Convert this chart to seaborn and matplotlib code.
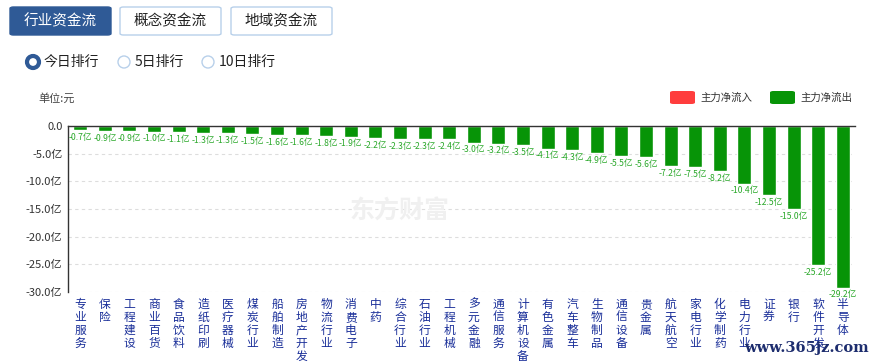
import matplotlib
matplotlib.use("Agg")
import matplotlib.pyplot as plt
from matplotlib.patches import FancyBboxPatch, Ellipse
import seaborn as sns
import pandas as pd

# 行业资金流 今日排行 (单位: 亿元)
industries = ['专业服务', '保险', '工程建设', '商业百货', '食品饮料', '造纸印刷', '医疗器械',
              '煤炭行业', '船舶制造', '房地产开发', '物流行业', '消费电子', '中药', '综合行业',
              '石油行业', '工程机械', '多元金融', '通信服务', '计算机设备', '有色金属', '汽车整车',
              '生物制品', '通信设备', '贵金属', '航天航空', '家电行业', '化学制药', '电力行业',
              '证券', '银行', '软件开发', '半导体']
net_flow = [-0.7, -0.9, -0.9, -1.0, -1.1, -1.3, -1.3, -1.5, -1.6, -1.6, -1.8, -1.9, -2.2, -2.3,
            -2.3, -2.4, -3.0, -3.2, -3.5, -4.1, -4.3, -4.9, -5.5, -5.6, -7.2, -7.5, -8.2, -10.4,
            -12.5, -15.0, -25.2, -29.2]
y_ticks = [0, -5, -10, -15, -20, -25, -30]

GREEN = '#079407'
RED = '#ff3d3d'
W, H = 872, 363

sns.set_theme(style="white")
plt.rcParams['font.family'] = ['Noto Sans CJK SC', 'DejaVu Sans']

df = pd.DataFrame({'industry': industries, 'flow': net_flow})

fig = plt.figure(figsize=(W / 100, H / 100), dpi=100)
ax = fig.add_axes([68 / W, 1 - 292 / H, (855 - 68) / W, (292 - 126) / H])

sns.barplot(data=df, x='industry', y='flow', color=GREEN, saturation=1, width=0.57, ax=ax)

ax.set_ylim(-30, 0)
ax.set_xlim(-0.5, len(industries) - 0.5)
ax.set_yticks(y_ticks)
ax.set_yticklabels(['0.0'] + [f'{v:.1f}亿' for v in y_ticks[1:]], fontsize=8, color='#333333')
ax.yaxis.grid(True, linestyle=(0, (3, 3)), color='#dddddd', linewidth=0.8)
ax.set_axisbelow(True)
ax.set_xlabel('')
ax.set_ylabel('')
ax.tick_params(axis='both', length=0, pad=4)

# 竖排行业名
ax.set_xticks(range(len(industries)))
ax.set_xticklabels(['\n'.join(s) for s in industries], fontsize=8.5, color='#1a2f99',
                   linespacing=1.02, va='top')
ax.tick_params(axis='x', pad=4)

for side in ['right', 'bottom']:
    ax.spines[side].set_visible(False)
ax.spines['top'].set_color('#333333')
ax.spines['left'].set_color('#333333')
ax.spines['top'].set_linewidth(1)
ax.spines['left'].set_linewidth(1)

# 数值标签
for i, v in enumerate(net_flow):
    ax.annotate(f'{v:.1f}亿', (i, v), xytext=(0, -2), textcoords='offset points',
                ha='center', va='top', fontsize=6.2, color='#2aa82a')


def px(x, y):
    return x / W, 1 - y / H


# 顶部按钮
buttons = [('行业资金流', 10, True), ('概念资金流', 120, False), ('地域资金流', 231, False)]
for label, x0, active in buttons:
    fx, fy = px(x0, 35)
    box = FancyBboxPatch((fx, fy), 101 / W, 28 / H, boxstyle='round,pad=0,rounding_size=0.004',
                         transform=fig.transFigure, facecolor='#2f5a96' if active else 'white',
                         edgecolor='#2f5a96' if active else '#b8d0ea', linewidth=1)
    fig.patches.append(box)
    tx, ty = px(x0 + 50.5, 21)
    fig.text(tx, ty, label, ha='center', va='center', fontsize=10.5,
             color='white' if active else '#222222')

# 单选按钮
radios = [('今日排行', 33, True), ('5日排行', 124, False), ('10日排行', 208, False)]
for label, cx, checked in radios:
    c = Ellipse(px(cx, 62), 12 / W, 12 / H, transform=fig.transFigure, facecolor='white',
                edgecolor='#2f5a96' if checked else '#b8d0ea', linewidth=3 if checked else 1)
    fig.patches.append(c)
    tx, ty = px(cx + 11, 62)
    fig.text(tx, ty, label, ha='left', va='center', fontsize=10, color='#222222')

fig.text(*px(38, 98), '单位:元', ha='left', va='center', fontsize=8, color='#444444')

# 图例
for label, x0, col in [('主力净流入', 670, RED), ('主力净流出', 770, GREEN)]:
    fx, fy = px(x0, 104)
    fig.patches.append(FancyBboxPatch((fx, fy), 25 / W, 13 / H,
                                      boxstyle='round,pad=0,rounding_size=0.004',
                                      transform=fig.transFigure, facecolor=col, edgecolor='none'))
    fig.text(*px(x0 + 30, 97.5), label, ha='left', va='center', fontsize=7.5, color='#333333')

# 水印
fig.text(*px(400, 211), '东方财富', ha='center', va='center', fontsize=18,
         color='#f0f0f0', fontweight='bold', zorder=0)
fig.text(*px(806, 348), 'www.365jz.com', ha='center', va='center', fontsize=10.5,
         color='#1d2d6e', family=['DejaVu Serif'], fontweight='bold')

fig.savefig('out.png', dpi=100)
